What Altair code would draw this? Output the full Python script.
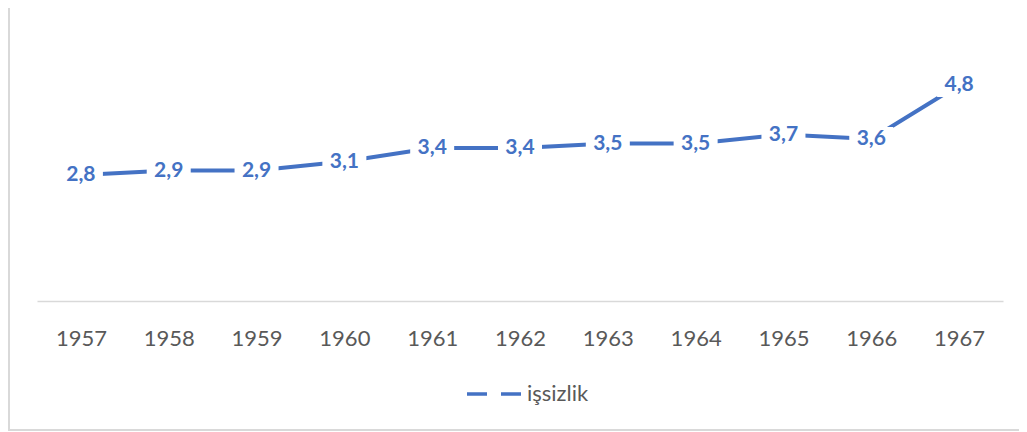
import altair as alt
import pandas as pd

years = ["1957", "1958", "1959", "1960", "1961", "1962", "1963", "1964", "1965", "1966", "1967"]
values = [2.8, 2.9, 2.9, 3.1, 3.4, 3.4, 3.5, 3.5, 3.7, 3.6, 4.8]
series_name = "işsizlik"

labels = [f"{v:.1f}".replace(".", ",") for v in values]
df = pd.DataFrame({"year": years, "value": values, "label": labels, "series": series_name})

BLUE = "#4472C4"
GRAY_TXT = "#595959"
FONT = "Lato"

x_enc = alt.X(
    "year:O",
    sort=years,
    scale=alt.Scale(type="point", padding=0.5),
    axis=alt.Axis(
        title=None, labelAngle=0, ticks=False, tickSize=0, labelPadding=37,
        labelBaseline="middle", labelFont=FONT, labelFontSize=22, labelColor=GRAY_TXT,
        domainColor="#D9D9D9", domainWidth=1.5, grid=False,
    ),
)
y_enc = alt.Y("value:Q", scale=alt.Scale(domain=[0, 6], nice=False), axis=None)

base = alt.Chart(df).encode(x=x_enc, y=y_enc)

line = base.mark_line(strokeWidth=4, strokeCap="butt").encode(
    color=alt.Color(
        "series:N",
        scale=alt.Scale(domain=[series_name], range=[BLUE]),
        legend=alt.Legend(
            title=None, orient="none", legendX=428, legendY=334,
            symbolType="stroke", symbolSize=2916, symbolStrokeWidth=3.5,
            symbolDash=[20, 14], labelOffset=4, labelFont=FONT,
            labelFontSize=22, labelColor=GRAY_TXT, labelLimit=300,
        ),
    )
)

boxes = base.mark_point(
    shape="M-1,-0.55L1,-0.55L1,0.55L-1,0.55Z", filled=True, fill="white",
    stroke=None, opacity=1, size=1936,
)

texts = base.mark_text(
    font=FONT, fontSize=21, fontWeight="bold", color=BLUE, baseline="middle", align="center"
).encode(text="label:N")

frame_df = alt.Data(values=[{"a": 1}])
left_border = alt.Chart(frame_df).mark_rule(color="#D9D9D9", strokeWidth=2).encode(
    x=alt.value(-28), y=alt.value(-23), y2=alt.value(400)
)
bottom_border = alt.Chart(frame_df).mark_rule(color="#D9D9D9", strokeWidth=2).encode(
    y=alt.value(399), x=alt.value(-29), x2=alt.value(982)
)

chart = (
    alt.layer(left_border, bottom_border, line, boxes, texts)
    .properties(
        width=966, height=270,
        autosize=alt.AutoSizeParams(type="none"),
        padding={"left": 29, "top": 23, "right": 16, "bottom": 131},
        background="white",
    )
    .configure_view(stroke=None)
)

chart.save("out.html", embed_options={"renderer": "svg", "actions": False})
